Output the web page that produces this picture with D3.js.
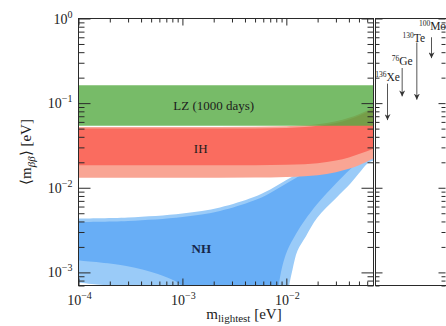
<!DOCTYPE html>
<html>
<head>
<meta charset="utf-8">
<script src="https://cdn.jsdelivr.net/npm/d3@7"></script>
<style>
  html, body { margin: 0; padding: 0; background: #fff; }
  svg { display: block; font-family: "Liberation Serif", "Times New Roman", serif; }
</style>
</head>
<body>
<svg id="chart" width="446" height="326"></svg>
<script>
// ---- axis ranges (eV) ----
const massRange = [1e-4, 0.069];      // m_lightest
const mbbRange  = [7e-4, 1];          // <m_bb>
const yMajor = [1e-3, 1e-2, 1e-1, 1];
const yMajorExp = ["−3", "−2", "−1", "0"];
const xMajor = [1e-4, 1e-3, 1e-2];
const xMajorExp = ["−4", "−3", "−2"];

// ---- LZ (1000 days) sensitivity band ----
const lzBand = [0.054, 0.163];

// ---- inverted hierarchy: outer (light) and inner (dark) bands ----
const ihMass        = [1e-4, 1e-3, 5e-3, 0.01, 0.015, 0.02, 0.03, 0.04, 0.05, 0.069];
const ihOuterTop    = [0.0523, 0.0523, 0.0526, 0.0533, 0.0546, 0.0563, 0.061, 0.067, 0.074, 0.089];
const ihInnerTop    = [0.050, 0.050, 0.0503, 0.051, 0.0522, 0.0539, 0.0583, 0.064, 0.0707, 0.085];
const ihInnerBottom = [0.0184, 0.0184, 0.0185, 0.0187, 0.019, 0.0195, 0.021, 0.0228, 0.025, 0.029];
const ihOuterBottom = [0.0131, 0.0131, 0.0132, 0.0134, 0.0137, 0.0141, 0.0153, 0.0168, 0.0185, 0.0223];

// ---- normal hierarchy boundaries as [m_lightest, m_bb] ----
const nhOuterTop = [[1e-4, 4.33e-3], [3e-4, 4.45e-3], [1e-3, 4.96e-3], [2.3e-3, 5.85e-3],
  [4.8e-3, 7.7e-3], [7e-3, 9.55e-3], [0.0102, 0.0125], [0.0146, 0.0161], [0.02, 0.021],
  [0.03, 0.031], [0.05, 0.051], [0.069, 0.071]];
const nhInnerTop = [[1e-4, 3.94e-3], [3e-4, 4.05e-3], [1e-3, 4.51e-3], [2.3e-3, 5.32e-3],
  [4.8e-3, 7.0e-3], [7e-3, 8.7e-3], [0.0102, 0.0114], [0.0146, 0.0147], [0.02, 0.0192],
  [0.03, 0.0283], [0.05, 0.0465], [0.069, 0.065]];
const nhOuterBottom = [[1e-4, 7.55e-4], [1.5e-4, 7.2e-4], [2.1e-4, 6.8e-4], [4e-4, 4e-4],
  [0.01, 4e-4], [0.0106, 6.8e-4], [0.0115, 1.1e-3], [0.0128, 1.8e-3], [0.0155, 2.7e-3],
  [0.0199, 4.45e-3], [0.03, 7.5e-3], [0.0414, 0.0112], [0.05, 0.0148], [0.0604, 0.0194],
  [0.069, 0.021]];
const nhInnerBottom = [[1e-4, 1.38e-3], [2.8e-4, 1.2e-3], [5.8e-4, 9.6e-4], [8.5e-4, 7.9e-4],
  [1.05e-3, 6.5e-4], [1.6e-3, 4e-4], [7.8e-3, 4e-4], [0.0084, 6.8e-4], [0.0091, 1.15e-3],
  [0.0102, 1.8e-3], [0.0125, 2.9e-3], [0.015, 4.1e-3], [0.02, 6.5e-3], [0.03, 0.0112],
  [0.04, 0.016], [0.05, 0.02], [0.069, 0.0248]];

// ---- current experimental limits (eV), upper and lower ends of each arrow ----
const isotopeA   = ["136", "76", "130", "100"];
const isotopeSym = ["Xe", "Ge", "Te", "Mo"];
const limitHigh  = [0.17, 0.26, 0.52, 0.6];
const limitLow   = [0.063, 0.12, 0.11, 0.34];

// ---- layout ----
const plot = { left: 78.5, right: 373.5, top: 18.5, bottom: 285.5 };
const side = { left: 375.5, right: 447.5 };
const colors = {
  lz: "#55aa42", ihOuter: "#f9a594", ihInner: "#fa6c5f",
  nhOuter: "#9acbf8", nhInner: "#68aef6", frame: "#2a2a2a", text: "#1c1c1c"
};

const svg = d3.select("#chart");
const x = d3.scaleLog().domain(massRange).range([plot.left, plot.right]);
const y = d3.scaleLog().domain(mbbRange).range([plot.bottom, plot.top]);
const xIso = d3.scalePoint().domain(isotopeSym).range([387.5, 431.5]);

svg.append("defs").append("clipPath").attr("id", "plotClip")
  .append("rect")
  .attr("x", plot.left).attr("y", plot.top)
  .attr("width", plot.right - plot.left).attr("height", plot.bottom - plot.top);

const regions = svg.append("g").attr("clip-path", "url(#plotClip)");

// closed band from an upper and a lower boundary
const edge = d3.line().x(d => x(d[0])).y(d => y(d[1])).curve(d3.curveCatmullRom.alpha(0.5));
function band(upper, lower) {
  const a = edge(upper);
  const b = edge(lower.slice().reverse());
  return a + "L" + b.slice(1) + "Z";
}

// normal hierarchy
regions.append("path").attr("d", band(nhOuterTop, nhOuterBottom)).attr("fill", colors.nhOuter);
regions.append("path").attr("d", band(nhInnerTop, nhInnerBottom)).attr("fill", colors.nhInner);

// inverted hierarchy
const ihArea = (top, bottom) => d3.area()
  .x((d, i) => x(ihMass[i]))
  .y0((d, i) => y(bottom[i]))
  .y1((d, i) => y(top[i]))
  .curve(d3.curveMonotoneX)(ihMass);
regions.append("path").attr("d", ihArea(ihOuterTop, ihOuterBottom)).attr("fill", colors.ihOuter);
regions.append("path").attr("d", ihArea(ihInnerTop, ihInnerBottom)).attr("fill", colors.ihInner);

// LZ sensitivity (translucent, so the IH band shows through where they overlap)
regions.append("path")
  .attr("d", d3.area().x(d => x(d)).y0(y(lzBand[0])).y1(y(lzBand[1]))(massRange))
  .attr("fill", colors.lz).attr("fill-opacity", 0.8);

// band labels
const label = (mx, my, txt, opts = {}) => svg.append("text")
  .attr("x", x(mx)).attr("y", y(my))
  .attr("text-anchor", "middle")
  .attr("font-size", opts.size || 13)
  .attr("font-weight", opts.weight || "normal")
  .attr("fill", opts.fill || colors.text)
  .text(txt);
label(2.0e-3, 0.082, "LZ (1000 days)");
label(1.5e-3, 0.0255, "IH");
label(1.52e-3, 1.71e-3, "NH", { weight: "bold", fill: "#16264a" });

// ---- frames ----
svg.append("rect")
  .attr("x", plot.left).attr("y", plot.top)
  .attr("width", plot.right - plot.left).attr("height", plot.bottom - plot.top)
  .attr("fill", "none").attr("stroke", colors.frame);
svg.append("rect")
  .attr("x", side.left).attr("y", plot.top)
  .attr("width", side.right - side.left).attr("height", plot.bottom - plot.top)
  .attr("fill", "none").attr("stroke", colors.frame);

// ---- ticks (all pointing inward) ----
const isDecade = v => Math.abs(Math.log10(v) - Math.round(Math.log10(v))) < 1e-6;
const yMinor = y.ticks().filter(v => !isDecade(v));
const xMinor = x.ticks().filter(v => !isDecade(v));

function ticks(axisFn, scale, values, size, tx, ty) {
  const g = svg.append("g").attr("transform", `translate(${tx},${ty})`)
    .call(axisFn(scale).tickValues(values).tickSize(-size).tickSizeOuter(0).tickFormat(""));
  g.select(".domain").remove();
  g.selectAll("line").attr("stroke", colors.frame);
}
// main panel
ticks(d3.axisLeft, y, yMajor, 12, plot.left, 0);
ticks(d3.axisLeft, y, yMinor, 6, plot.left, 0);
ticks(d3.axisRight, y, yMajor, 12, plot.right, 0);
ticks(d3.axisRight, y, yMinor, 6, plot.right, 0);
ticks(d3.axisBottom, x, xMajor, 7, 0, plot.bottom);
ticks(d3.axisBottom, x, xMinor, 4, 0, plot.bottom);
ticks(d3.axisTop, x, xMajor, 7, 0, plot.top);
ticks(d3.axisTop, x, xMinor, 4, 0, plot.top);
// side panel
ticks(d3.axisLeft, y, yMajor, 7, side.left, 0);
ticks(d3.axisLeft, y, yMinor, 4, side.left, 0);
ticks(d3.axisRight, y, yMajor, 7, side.right - 2, 0);
ticks(d3.axisRight, y, yMinor, 4, side.right - 2, 0);

// ---- tick labels ----
const yl = svg.append("g").attr("fill", colors.text).attr("font-size", 14);
yMajor.forEach((v, i) => {
  const t = yl.append("text").attr("x", plot.left - 6).attr("y", y(v) + 5).attr("text-anchor", "end");
  t.append("tspan").text("10");
  t.append("tspan").attr("font-size", 10).attr("dy", -6).text(yMajorExp[i]);
});
const xl = svg.append("g").attr("fill", colors.text).attr("font-size", 14);
xMajor.forEach((v, i) => {
  const t = xl.append("text").attr("x", x(v) + 1).attr("y", plot.bottom + 19).attr("text-anchor", "middle");
  t.append("tspan").text("10");
  t.append("tspan").attr("font-size", 10).attr("dy", -6).text(xMajorExp[i]);
});

// ---- axis titles ----
const xt = svg.append("text").attr("x", 244).attr("y", 319)
  .attr("text-anchor", "middle").attr("font-size", 15).attr("fill", colors.text);
xt.append("tspan").text("m");
xt.append("tspan").attr("font-size", 11).attr("dy", 3).text("lightest");
xt.append("tspan").attr("dy", -3).text(" [eV]");

const yt = svg.append("text")
  .attr("transform", "translate(31,152) rotate(-90)")
  .attr("text-anchor", "middle").attr("font-size", 15).attr("fill", colors.text);
yt.append("tspan").text("⟨m");
yt.append("tspan").attr("font-size", 11).attr("font-style", "italic").attr("dy", 4).text("ββ");
yt.append("tspan").attr("dy", -4).text("⟩ [eV]");

// ---- experimental limits ----
svg.append("defs").append("marker")
  .attr("id", "head").attr("viewBox", "0 0 10 10")
  .attr("refX", 10).attr("refY", 5)
  .attr("markerWidth", 6).attr("markerHeight", 6)
  .attr("markerUnits", "userSpaceOnUse")
  .attr("orient", "auto")
  .append("path").attr("d", "M0,0L10,5L0,10L3,5Z").attr("fill", "#333");

// label offsets above each arrow (dx, dy)
const labelShift = { Xe: [0, -3], Ge: [0, -3], Te: [-3, -1], Mo: [1, -7] };
isotopeSym.forEach((s, i) => {
  const cx = xIso(s);
  svg.append("line")
    .attr("x1", cx).attr("x2", cx)
    .attr("y1", y(limitHigh[i])).attr("y2", y(limitLow[i]))
    .attr("stroke", "#555").attr("stroke-width", 1)
    .attr("marker-end", "url(#head)");
  const t = svg.append("text")
    .attr("x", cx + labelShift[s][0]).attr("y", y(limitHigh[i]) + labelShift[s][1])
    .attr("text-anchor", "middle").attr("font-size", 11.5).attr("fill", colors.text);
  t.append("tspan").attr("font-size", 7.5).attr("dy", -4).text(isotopeA[i]);
  t.append("tspan").attr("dy", 4).text(s);
});
</script>
</body>
</html>
